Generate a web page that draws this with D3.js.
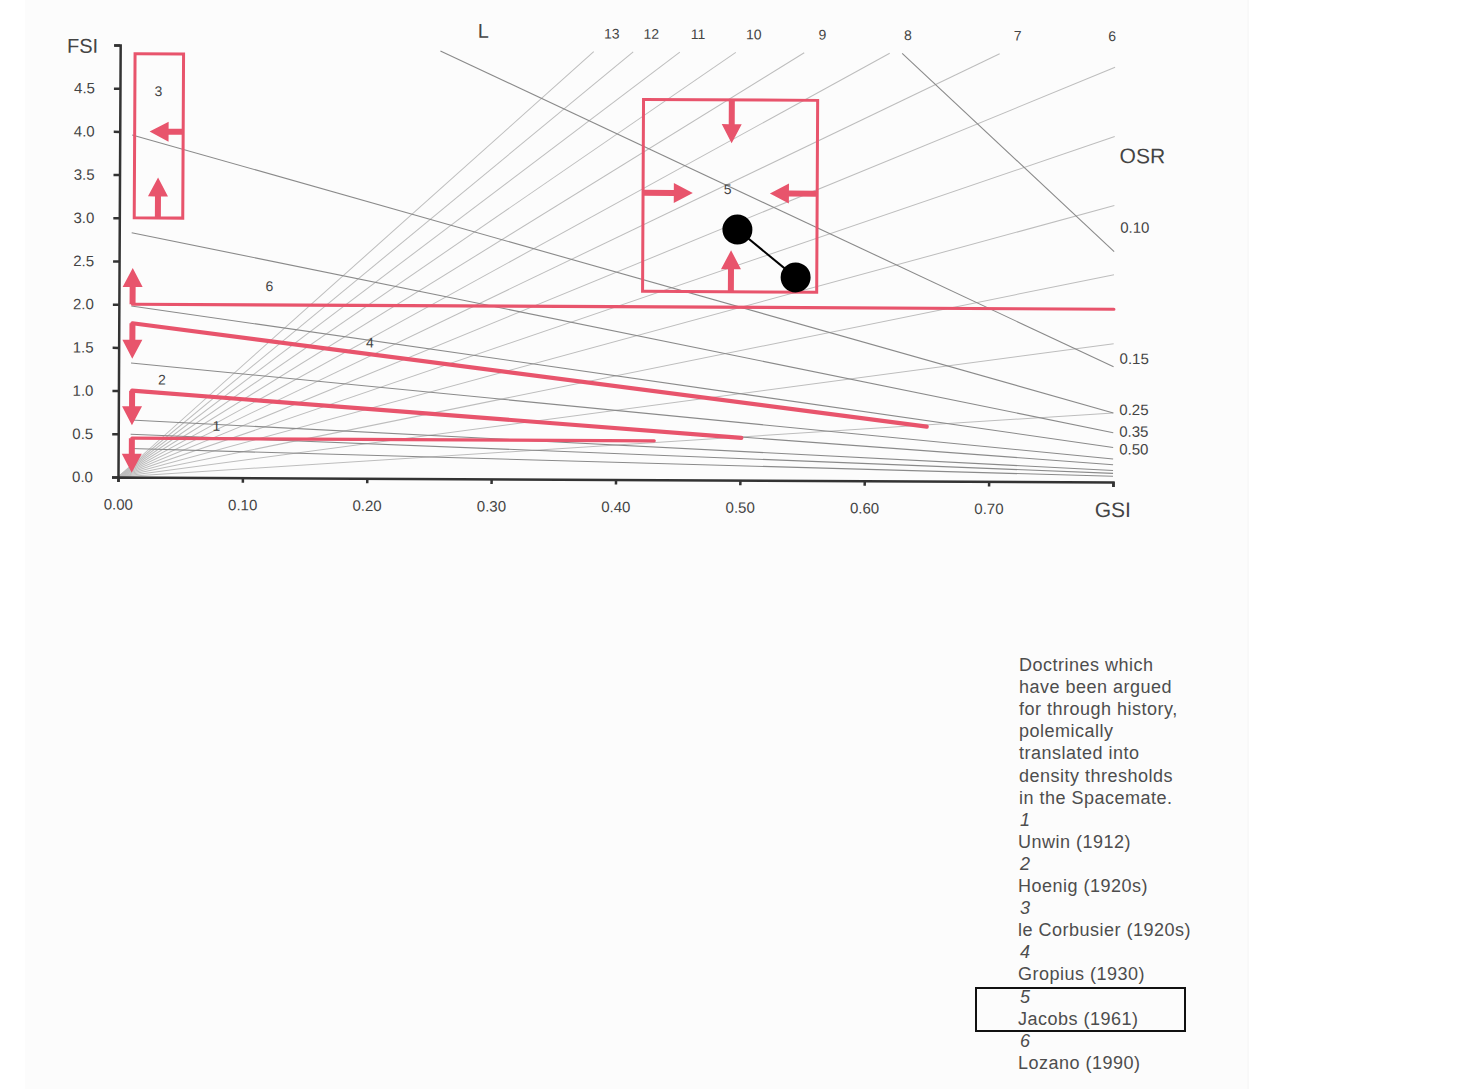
<!DOCTYPE html>
<html>
<head>
<meta charset="utf-8">
<script src="https://cdn.jsdelivr.net/npm/d3@7"></script>
<style>
  body { margin: 0; background: #fff; }
  text { font-family: "Liberation Sans", Arial, sans-serif; }
</style>
</head>
<body>
<div id="chart"></div>
<script>
// axis ticks
var gsiTicks = [0, 0.1, 0.2, 0.3, 0.4, 0.5, 0.6, 0.7];
var fsiTicks = [0, 0.5, 1, 1.5, 2, 2.5, 3, 3.5, 4, 4.5];

// L (floors) rays, FSI = L * GSI
var floorValues = [1, 2, 3, 4, 5, 6, 7, 8, 9, 10, 11, 12, 13];
var floorLabels = [13, 12, 11, 10, 9, 8, 7, 6];

// OSR lines, FSI = (1 - GSI) / OSR
var osrValues = [0.075, 0.15, 0.25, 0.35, 0.5, 0.75, 1, 1.5, 2, 3];
var osrLabels = ["0.10", "0.15", "0.25", "0.35", "0.50"];

// doctrines
var doctrineIds = ["1", "2", "3", "4", "5", "6"];
var doctrineNames = ["Unwin (1912)", "Hoenig (1920s)", "le Corbusier (1920s)",
                     "Gropius (1930)", "Jacobs (1961)", "Lozano (1990)"];
var doctrineLabelPos = [[0.079, 0.6], [0.035, 1.13], [0.031, 4.47],
                        [0.202, 1.57], [0.489, 3.37], [0.121, 2.22]];

// threshold lines: [gsi, fsi] start, end, arrow tip
var thresholdLines = [
  {id: "1", start: [0.011, 0.45], end: [0.431, 0.45], tip: [0.011, 0.05]},
  {id: "2", start: [0.011, 1.0], end: [0.501, 0.49], tip: [0.011, 0.6]},
  {id: "4", start: [0.011, 1.78], end: [0.65, 0.63], tip: [0.011, 1.37]},
  {id: "6", start: [0.011, 2.0], end: [0.80, 2.0], tip: [0.011, 2.42]}
];

// threshold boxes
var thresholdBoxes = [
  {id: "3", gsi: [0.012, 0.051], fsi: [3.0, 4.9]},
  {id: "5", gsi: [0.421, 0.561], fsi: [2.18, 4.4]}
];
var boxArrows = [
  {from: [0.051, 4.0], to: [0.024, 4.0]},
  {from: [0.031, 3.0], to: [0.031, 3.47]},
  {from: [0.492, 4.4], to: [0.492, 3.9]},
  {from: [0.421, 3.32], to: [0.461, 3.32]},
  {from: [0.561, 3.32], to: [0.523, 3.32]},
  {from: [0.492, 2.18], to: [0.492, 2.66]}
];

// Jacobs sample points
var samplePoints = [[0.497, 2.9], [0.544, 2.35]];

var legendIntro = ["Doctrines which", "have been argued", "for through history,",
                   "polemically", "translated into", "density thresholds",
                   "in the Spacemate."];

var red = "#e8546c";
var width = 1469, height = 1089;

var svg = d3.select("#chart").append("svg")
  .attr("width", width)
  .attr("height", height);

svg.append("rect").attr("width", width).attr("height", height).attr("fill", "#fff");
svg.append("rect").attr("x", 25).attr("y", 0).attr("width", 1222).attr("height", height)
  .attr("fill", "#fcfcfc");
svg.append("line").attr("x1", 1248).attr("x2", 1248).attr("y1", 0).attr("y2", height)
  .attr("stroke", "#f2f2f2");

var x = d3.scaleLinear().domain([0, 0.8]).range([118, 1113]);
var y = d3.scaleLinear().domain([0, 5]).range([477, 45]);

// scanned page is tilted a bit
var g = svg.append("g").attr("transform", "rotate(0.29, 118, 477)");

var fsiTop = 4.95;

// L rays
g.append("g").selectAll("line").data(floorValues).enter().append("line")
  .attr("x1", x(0)).attr("y1", y(0))
  .attr("x2", function(d) { return x(Math.min(0.8, fsiTop / d)); })
  .attr("y2", function(d) { return y(Math.min(0.8, fsiTop / d) * d); })
  .attr("stroke", "#bdbdbd").attr("stroke-width", 1);

// OSR lines
g.append("g").selectAll("line").data(osrValues).enter().append("line")
  .attr("x1", function(d) { return x(Math.max(0.01, 1 - fsiTop * d)); })
  .attr("y1", function(d) { return y((1 - Math.max(0.01, 1 - fsiTop * d)) / d); })
  .attr("x2", x(0.8))
  .attr("y2", function(d) { return y(0.2 / d); })
  .attr("stroke", "#8a8a8a").attr("stroke-width", 1.1);

// axes
var yAxis = d3.axisLeft(y).tickValues(fsiTicks.concat([5]))
  .tickFormat(function(d) { return d === 5 ? "" : d3.format(".1f")(d); })
  .tickSize(6).tickPadding(19);
var xAxis = d3.axisBottom(x).tickValues(gsiTicks.concat([0.8]))
  .tickFormat(function(d) { return d === 0.8 ? "" : d3.format(".2f")(d); })
  .tickSize(5).tickPadding(17);

var ya = g.append("g").attr("transform", "translate(" + x(0) + ",0)").call(yAxis);
var xa = g.append("g").attr("transform", "translate(0," + y(0) + ")").call(xAxis);
[ya, xa].forEach(function(a) {
  a.select(".domain").attr("stroke", "#333").attr("stroke-width", 2.5);
  a.selectAll(".tick line").attr("stroke", "#333").attr("stroke-width", 2.5);
  a.selectAll(".tick text").attr("fill", "#444").style("font-size", "15px")
    .style("font-family", "'Liberation Sans', Arial, sans-serif");
});

g.append("text").attr("x", x(0) - 22).attr("y", y(5) + 8).attr("text-anchor", "end")
  .attr("fill", "#444").style("font-size", "20px").text("FSI");
g.append("text").attr("x", x(0.8)).attr("y", y(0) + 35).attr("text-anchor", "middle")
  .attr("fill", "#444").style("font-size", "21px").text("GSI");

// L labels
g.append("text").attr("x", 481).attr("y", 36).attr("text-anchor", "middle")
  .attr("fill", "#444").style("font-size", "20px").text("L");
g.append("g").selectAll("text").data(floorLabels).enter().append("text")
  .attr("x", function(d) { return Math.min(1110, x(Math.min(0.8, fsiTop / d)) + 18); })
  .attr("y", 36).attr("text-anchor", "middle")
  .attr("fill", "#444").style("font-size", "14px")
  .text(function(d) { return d; });

// OSR labels
var osrNudge = [-24, -8, -3, -1, 2];
g.append("text").attr("x", 1118).attr("y", 158).attr("fill", "#444")
  .style("font-size", "21px").text("OSR");
g.append("g").selectAll("text").data(osrLabels).enter().append("text")
  .attr("x", 1119)
  .attr("y", function(d, i) { return y(0.2 / osrValues[i]) + osrNudge[i] + 5; })
  .attr("fill", "#444").style("font-size", "15px")
  .text(function(d) { return d; });

// arrow helper, pixel coords
function arrow(sel, x1, y1, x2, y2) {
  var dx = x2 - x1, dy = y2 - y1;
  var len = Math.sqrt(dx * dx + dy * dy);
  var ang = Math.atan2(dy, dx) * 180 / Math.PI;
  var w = 3, hw = 10, h = 19;
  var p = "M0," + (-w) + "L" + (len - h) + "," + (-w) + "L" + (len - h) + "," + (-hw) +
    "L" + len + ",0L" + (len - h) + "," + hw + "L" + (len - h) + "," + w + "L0," + w + "Z";
  sel.append("path").attr("d", p).attr("fill", red)
    .attr("transform", "translate(" + x1 + "," + y1 + ") rotate(" + ang + ")");
}

var red_g = g.append("g");

// threshold lines
red_g.selectAll("line.thr").data(thresholdLines).enter().append("line")
  .attr("class", "thr")
  .attr("x1", function(d) { return x(d.start[0]); })
  .attr("y1", function(d) { return y(d.start[1]); })
  .attr("x2", function(d) { return x(d.end[0]); })
  .attr("y2", function(d) { return y(d.end[1]); })
  .attr("stroke", red)
  .attr("stroke-width", function(d) { return (d.id === "2" || d.id === "4") ? 4.2 : 3.2; })
  .attr("stroke-linecap", "round");
thresholdLines.forEach(function(d) {
  arrow(red_g, x(d.start[0]), y(d.start[1]), x(d.tip[0]), y(d.tip[1]));
});

// boxes
red_g.selectAll("rect").data(thresholdBoxes).enter().append("rect")
  .attr("x", function(d) { return x(d.gsi[0]); })
  .attr("y", function(d) { return y(d.fsi[1]); })
  .attr("width", function(d) { return x(d.gsi[1]) - x(d.gsi[0]); })
  .attr("height", function(d) { return y(d.fsi[0]) - y(d.fsi[1]); })
  .attr("fill", "none").attr("stroke", red).attr("stroke-width", 3);
boxArrows.forEach(function(d) {
  arrow(red_g, x(d.from[0]), y(d.from[1]), x(d.to[0]), y(d.to[1]));
});

// doctrine numbers in the chart
g.append("g").selectAll("text").data(doctrineIds).enter().append("text")
  .attr("x", function(d, i) { return x(doctrineLabelPos[i][0]); })
  .attr("y", function(d, i) { return y(doctrineLabelPos[i][1]) + 5; })
  .attr("text-anchor", "middle").attr("fill", "#444").style("font-size", "14px")
  .text(function(d) { return d; });

// Jacobs points
g.append("line")
  .attr("x1", x(samplePoints[0][0])).attr("y1", y(samplePoints[0][1]))
  .attr("x2", x(samplePoints[1][0])).attr("y2", y(samplePoints[1][1]))
  .attr("stroke", "#000").attr("stroke-width", 2);
g.append("g").selectAll("circle").data(samplePoints).enter().append("circle")
  .attr("cx", function(d) { return x(d[0]); })
  .attr("cy", function(d) { return y(d[1]); })
  .attr("r", 15).attr("fill", "#000");

// legend text
var lineH = 22.1, lx = 1019, ly = 671;
var leg = svg.append("g").attr("fill", "#4d4d4d").style("font-size", "18px")
  .style("letter-spacing", "0.5px");
legendIntro.forEach(function(t, i) {
  leg.append("text").attr("x", lx).attr("y", ly + i * lineH).text(t);
});
doctrineIds.forEach(function(id, i) {
  var row = legendIntro.length + i * 2;
  leg.append("text").attr("x", lx + 1).attr("y", ly + row * lineH)
    .style("font-style", "italic").text(id);
  leg.append("text").attr("x", lx - 1).attr("y", ly + (row + 1) * lineH).text(doctrineNames[i]);
});
svg.append("rect").attr("x", 976).attr("y", 988).attr("width", 209).attr("height", 43)
  .attr("fill", "none").attr("stroke", "#111").attr("stroke-width", 2);
</script>
</body>
</html>
